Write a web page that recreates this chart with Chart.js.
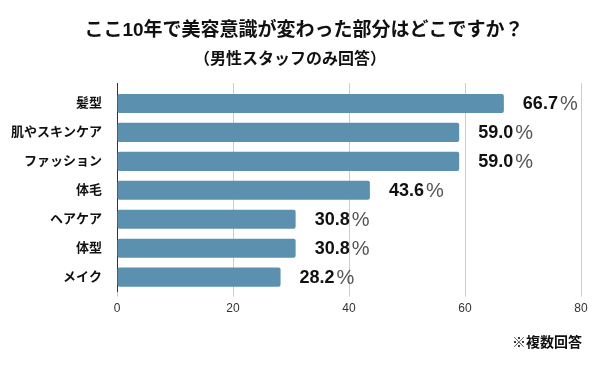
<!DOCTYPE html>
<html>
<head>
<meta charset="utf-8">
<script src="https://cdn.jsdelivr.net/npm/chart.js@4"></script>
<style>
  html, body { margin: 0; padding: 0; background: #fff; }
  #wrap { width: 600px; height: 371px; position: relative; }
</style>
</head>
<body>
<div id="wrap"><canvas id="chart1"></canvas></div>
<script>
'use strict';

var categories = ['髪型', '肌やスキンケア', 'ファッション', '体毛', 'ヘアケア', '体型', 'メイク'];
var percents = [66.7, 59.0, 59.0, 43.6, 30.8, 30.8, 28.2];
var xTicks = [0, 20, 40, 60, 80];

var titleText = 'ここ10年で美容意識が変わった部分はどこですか？';
var subtitleText = '（男性スタッフのみ回答）';
var noteText = '※複数回答';

var FONT = '"Liberation Sans", Arial, "Noto Sans CJK JP", sans-serif';

// texts around the chart + value labels at the end of the bars
var textPlugin = {
  id: 'texts',
  beforeDatasetsDraw: function (chart) {
    // grid lines run a little above the plot area in the original
    var ctx = chart.ctx;
    var xs = chart.scales.x;
    var top = chart.chartArea.top;
    ctx.save();
    xTicks.forEach(function (v) {
      var px = Math.round(xs.getPixelForValue(v)) + 0.5;
      ctx.strokeStyle = v === 0 ? '#333' : '#cccccc';
      ctx.lineWidth = 1;
      ctx.beginPath();
      ctx.moveTo(px, top - 6);
      ctx.lineTo(px, top);
      ctx.stroke();
    });
    ctx.restore();
  },
  afterDraw: function (chart) {
    var ctx = chart.ctx;
    ctx.save();
    ctx.fillStyle = '#111';
    ctx.textBaseline = 'middle';
    ctx.textAlign = 'center';
    ctx.font = 'bold 19px ' + FONT;
    ctx.fillText(titleText, 304, 31);
    ctx.font = 'bold 16px ' + FONT;
    ctx.fillText(subtitleText, 290, 60);
    ctx.textAlign = 'right';
    ctx.font = 'bold 14px ' + FONT;
    ctx.fillText(noteText, 582, 343);

    var meta = chart.getDatasetMeta(0);
    ctx.textAlign = 'left';
    meta.data.forEach(function (bar, i) {
      var num = percents[i].toFixed(1);
      var x = bar.x + 19;
      ctx.font = 'bold 18px ' + FONT;
      ctx.fillStyle = '#111';
      ctx.fillText(num, x, bar.y + 1);
      var w = ctx.measureText(num).width;
      ctx.font = '20px ' + FONT;
      ctx.fillStyle = '#555';
      ctx.fillText('%', x + w + 2, bar.y + 1);
    });
    ctx.restore();
  }
};

function renderChart() {
  var ctx = document.getElementById('chart1').getContext('2d');
  return new Chart(ctx, {
    type: 'bar',
    data: {
      labels: categories,
      datasets: [{
        data: percents,
        backgroundColor: '#5b91ae',
        borderRadius: 2,
        borderSkipped: false,
        barPercentage: 0.66,
        categoryPercentage: 1
      }]
    },
    options: {
      indexAxis: 'y',
      responsive: true,
      maintainAspectRatio: false,
      animation: false,
      layout: { padding: { top: 89, right: 19, bottom: 50, left: 0 } },
      plugins: {
        legend: { display: false },
        tooltip: { enabled: false }
      },
      scales: {
        x: {
          min: 0,
          max: 80,
          ticks: {
            stepSize: 20,
            padding: 5,
            color: '#333',
            font: { family: FONT, size: 12 }
          },
          grid: { color: '#cccccc', tickLength: 5 },
          border: { display: false }
        },
        y: {
          afterFit: function (scale) { scale.width = 117; },
          grid: { display: false },
          border: { display: true, color: '#333', width: 1 },
          ticks: {
            padding: 7,
            color: '#111',
            font: { family: FONT, size: 13, weight: 'bold' }
          }
        }
      }
    },
    plugins: [textPlugin]
  });
}

renderChart();
</script>
</body>
</html>
